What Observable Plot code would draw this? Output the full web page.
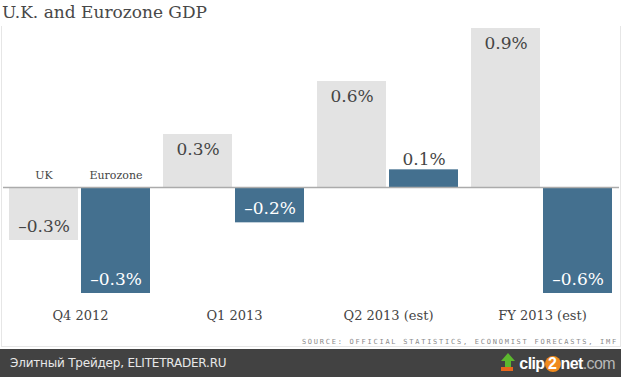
<!DOCTYPE html>
<html>
<head>
<meta charset="utf-8">
<script src="https://cdn.jsdelivr.net/npm/d3@7"></script>
<script src="https://cdn.jsdelivr.net/npm/@observablehq/plot@0.6"></script>
<style>
  html, body { margin: 0; padding: 0; background: #fff; }
  #page { position: relative; width: 621px; height: 377px; overflow: hidden; }
  #title { position: absolute; left: 2px; top: 0px; font: 17px "DejaVu Serif", serif; color: #484848; line-height: 24px; white-space: nowrap; }
  #box { position: absolute; left: 1px; top: 26px; width: 618px; height: 320px; border-left: 1px solid #e6e6e6; border-right: 1px solid #e6e6e6; border-bottom: 1px solid #e6e6e6; }
  #chart { position: absolute; left: 0; top: 22px; }
  #source { position: absolute; right: 3px; top: 338px; font: 7px "DejaVu Sans Mono", monospace; letter-spacing: 1.75px; color: #8a8a8a; white-space: nowrap; }
  #footer { position: absolute; left: 0; top: 349px; width: 621px; height: 28px; background: #424242; }
  #footer .left { position: absolute; left: 10px; top: 7px; font: 12px "DejaVu Sans", sans-serif; color: #e8e8e8; white-space: nowrap; letter-spacing: -0.2px; }
  #footer .right { position: absolute; right: 6px; top: 3px; font: bold 16px "Liberation Sans", Arial, sans-serif; color: #fff; white-space: nowrap; letter-spacing: -0.6px; }
  #footer .two { display: inline-block; width: 16px; height: 16px; border-radius: 50%; background: #f08a1c; color: #fff; text-align: center; line-height: 16px; letter-spacing: 0; }
  #footer .com { color: #b8b8b8; font-weight: normal; }
</style>
</head>
<body>
<div id="page">
  <div id="title">U.K. and Eurozone GDP</div>
  <div id="box"></div>
  <div id="chart"></div>
  <div id="source">SOURCE: OFFICIAL STATISTICS, ECONOMIST FORECASTS, IMF</div>
  <div id="footer">
    <div class="left">Элитный Трейдер, ELITETRADER.RU</div>
    <div class="right"><svg width="16" height="20" viewBox="0 0 16 20" style="vertical-align:-3px;margin-right:3px"><polygon points="8,1 15,9 11,9 11,15 5,15 5,9 1,9" fill="#5cb82e"/><rect x="1" y="15" width="12" height="4" fill="#e8661c"/></svg>clip<span class="two">2</span>net<span class="com">.com</span></div>
  </div>
</div>
<script>
// ---- Data ----
const quarters = ["Q4 2012", "Q1 2013", "Q2 2013 (est)", "FY 2013 (est)"];
const series = ["UK", "Eurozone"];
// Bar lengths as drawn in the reference (% change)
const ukValues = [-0.3, 0.3, 0.6, 0.9];
const ezValues = [-0.6, -0.2, 0.1, -0.6];
// Value labels as printed in the reference
const ukLabels = ["–0.3%", "0.3%", "0.6%", "0.9%"];
const ezLabels = ["–0.3%", "–0.2%", "0.1%", "–0.6%"];
const seriesColors = ["#e3e3e3", "#44708f"];

const rows = quarters.flatMap((q, i) => [
  {quarter: q, series: series[0], value: ukValues[i], label: ukLabels[i]},
  {quarter: q, series: series[1], value: ezValues[i], label: ezLabels[i]}
]);

const inside = d => Math.abs(d.value) >= 0.2;
const serifFont = "'DejaVu Serif', serif";

const chart = Plot.plot({
  width: 621,
  height: 310,
  marginTop: 6,
  marginBottom: 39,
  marginLeft: 7,
  marginRight: 6,
  style: {fontFamily: serifFont, fontSize: "13px", color: "#444", background: "transparent"},
  fx: {domain: quarters, paddingInner: 0.077, paddingOuter: 0, axis: "bottom", tickSize: 0, tickPadding: 17, label: null},
  x: {domain: series, paddingInner: 0.041, paddingOuter: 0, axis: null},
  y: {domain: [-0.6, 0.9], axis: null},
  color: {domain: series, range: seriesColors},
  marks: [
    Plot.barY(rows, {fx: "quarter", x: "series", y: "value", fill: "series"}),
    Plot.ruleY([0], {stroke: "#ababab", strokeWidth: 1.5, insetLeft: -6, insetRight: -6}),
    // labels inside positive bars (top)
    Plot.text(rows.filter(d => inside(d) && d.value > 0), {
      fx: "quarter", x: "series", y: "value", text: "label", dy: 15.5,
      fontSize: 17, fill: d => d.series === series[0] ? "#454545" : "#fff"
    }),
    // labels inside negative bars (bottom)
    Plot.text(rows.filter(d => inside(d) && d.value < 0), {
      fx: "quarter", x: "series", y: "value", text: "label", dy: -14,
      fontSize: 17, fill: d => d.series === series[0] ? "#454545" : "#fff"
    }),
    // labels outside small bars
    Plot.text(rows.filter(d => !inside(d)), {
      fx: "quarter", x: "series", y: "value", text: "label", dy: -10,
      fontSize: 17, fill: "#454545"
    }),
    // series names above the baseline in the first group
    Plot.text(rows.filter(d => d.quarter === quarters[0]), {
      fx: "quarter", x: "series", y: 0, text: "series", dy: -12,
      fontSize: 11, fill: "#444"
    })
  ]
});
document.getElementById("chart").appendChild(chart);
</script>
</body>
</html>
